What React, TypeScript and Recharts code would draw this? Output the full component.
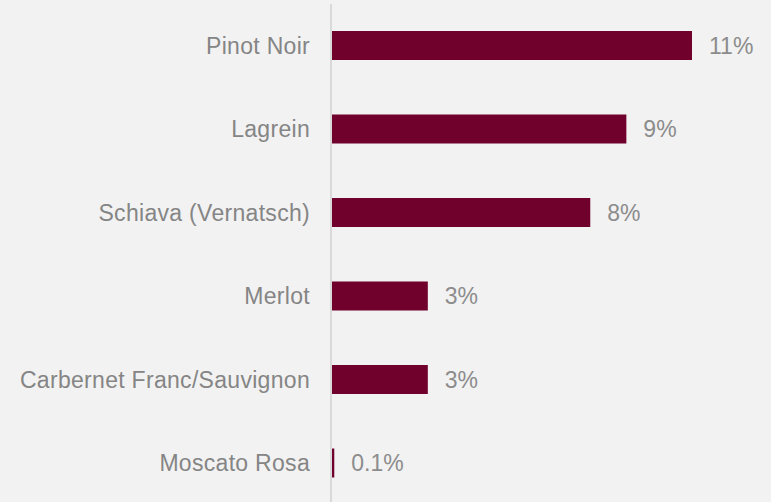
import React from 'react';
import { BarChart, Bar, XAxis, YAxis, LabelList } from 'recharts';

const varieties = [
  'Pinot Noir',
  'Lagrein',
  'Schiava (Vernatsch)',
  'Merlot',
  'Carbernet Franc/Sauvignon',
  'Moscato Rosa',
];
const shares = [11.0, 9.0, 7.9, 2.95, 2.95, 0.1];
const shareLabels = ['11%', '9%', '8%', '3%', '3%', '0.1%'];

const data = varieties.map((name, i) => ({
  name,
  value: shares[i],
  label: shareLabels[i],
}));

const App: React.FC = () => {
  return (
    <div
      style={{
        position: 'absolute',
        left: 0,
        top: 0,
        width: 771,
        height: 502,
        overflow: 'hidden',
        background: '#f2f2f2',
        fontFamily: 'Arial, "Liberation Sans", sans-serif',
      }}
    >
      <BarChart
        width={771}
        height={505}
        data={data}
        layout="vertical"
        margin={{ top: 4, right: 79, bottom: 0, left: 0 }}
        barSize={29}
      >
        <XAxis type="number" domain={[0, 11]} hide />
        <YAxis
          type="category"
          dataKey="name"
          width={331}
          tickLine={false}
          tickSize={0}
          tickMargin={21}
          axisLine={{ stroke: '#d9d9d9', strokeWidth: 2 }}
          tick={{ fill: '#858585', fontSize: 23, letterSpacing: 0.3 }}
          interval={0}
        />
        <Bar dataKey="value" fill="#70002c" isAnimationActive={false}>
          <LabelList
            dataKey="label"
            position="right"
            offset={17}
            fill="#8c8c8c"
            fontSize={23}
          />
        </Bar>
      </BarChart>
    </div>
  );
};

export default App;
